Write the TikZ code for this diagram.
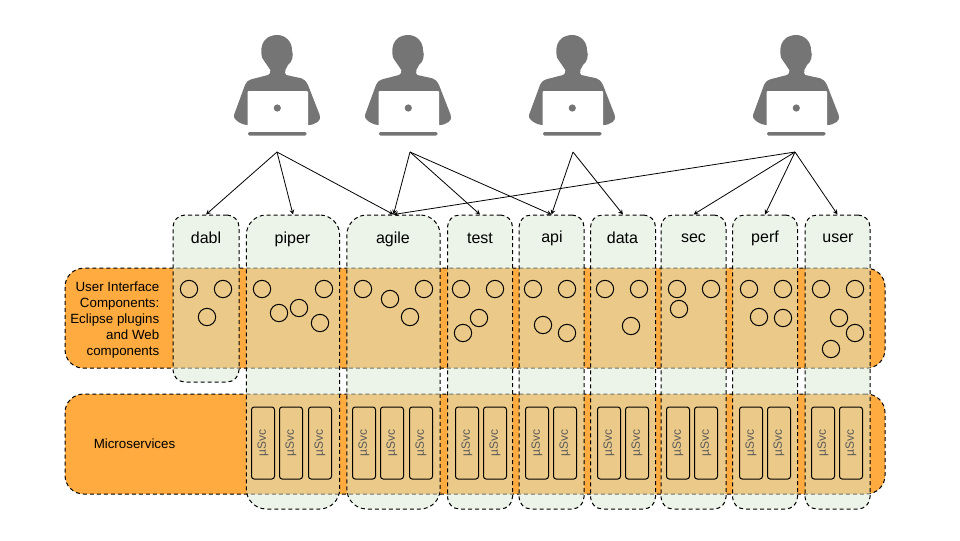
\documentclass[tikz,border=0pt]{standalone}
\usepackage{fontspec}
\setmainfont{Liberation Sans}
\usetikzlibrary{arrows}
\definecolor{BandOrange}{HTML}{FFAB40}
\definecolor{ColumnGreen}{HTML}{D9EAD3}
\definecolor{IconGray}{HTML}{757575}
\tikzstyle{Band} = [draw, dash pattern=on 3pt off 2.25pt, line width=.75pt, fill=BandOrange, rounded corners=14pt, minimum width=615pt, minimum height=75pt]
\tikzstyle{Column} = [draw, dash pattern=on 3pt off 2.25pt, line width=.75pt, fill=ColumnGreen, fill opacity=.5, rounded corners=9pt]
\tikzstyle{WideColumn} = [Column, rounded corners=15pt, minimum width=70pt, minimum height=220.5pt]
\tikzstyle{NarrowColumn} = [Column, minimum width=48.75pt, minimum height=220.5pt]
\tikzstyle{Title} = [font=\fontsize{12}{14}\selectfont]
\tikzstyle{Note} = [font=\fontsize{10}{12}\selectfont]
\tikzstyle{Comp} = [draw, circle, line width=.75pt, minimum size=13pt, inner sep=0pt]
\tikzstyle{Svc} = [draw=black, text=black!65, rectangle, rotate=90, rounded corners=2pt, line width=.75pt, minimum width=54pt, minimum height=17.25pt, inner sep=0pt, font=\fontsize{9}{10}\selectfont]
\tikzstyle{Link} = [-stealth, line width=.6pt]
\tikzset{developer/.pic={
    \fill[IconGray] (0,35) .. controls (9,35) and (15,42) .. (15,50)
      .. controls (17,56) and (15,62) .. (11,65) -- (8.3,70)
      .. controls (8,73) and (8,74) .. (9.3,75) -- (24.3,78.3)
      .. controls (27,79) and (29,81) .. (31,85) -- (42.7,115)
      .. controls (43.5,118) and (43,120) .. (41,121.7)
      .. controls (38,124) and (35,125) .. (31,125) -- (-30,125)
      .. controls (-35,124.5) and (-39,122) .. (-41,120)
      .. controls (-43,118) and (-43.5,117) .. (-43,115) -- (-32,85)
      .. controls (-30,81) and (-28,80) .. (-25.7,79.3) -- (-9,75)
      .. controls (-7,74) and (-6,72) .. (-6.7,70) -- (-12.3,61.7)
      .. controls (-15,58) and (-16,56) .. (-15.7,53)
      .. controls (-16,46) and (-14,41) .. (-10,38)
      .. controls (-7,36) and (-3,35) .. (0,35) -- cycle;
    \fill[white] (-29.5,126) -- (-29.5,92) .. controls (-29.5,91) .. (-28.5,91)
      -- (30,91) .. controls (31,91) .. (31,92) -- (31,126) -- cycle;
    \fill[IconGray] (0.3,108) circle (3.6);
    \fill[IconGray, rounded corners=1pt] (-29,132) rectangle (29.5,135.5);
  }}

\begin{document}
\begin{tikzpicture}[x=.75pt, y=-.75pt]
    \useasboundingbox (0,0) rectangle (960,540);
    % developers
    \pic at (277,0) {developer};
    \pic at (408,0) {developer};
    \pic at (572,0) {developer};
    \pic at (796,0) {developer};
    \coordinate (d_first)  at (277,152);
    \coordinate (d_second) at (410,152);
    \coordinate (d_third)  at (573,152);
    \coordinate (d_fourth) at (795,152);

    % layers
    \node[Band] (ui)   at (475,318.2) {};
    \node[Band] (msvc) at (475,444) {};
    \node[Note, align=right, anchor=east] (ui_text) at (164,320) {User Interface\\Components:\\Eclipse plugins\\and Web\\components};
    \node[Note] (msvc_text) at (134.5,443.5) {Microservices};

    % projects
    \node[Column, minimum width=49.5pt, minimum height=125.25pt] (dabl) at (206,298.5) {};
    \node[WideColumn]   (piper) at (293,362) {};
    \node[WideColumn]   (agile) at (393.5,362) {};
    \node[NarrowColumn] (test)  at (480,362) {};
    \node[NarrowColumn] (api)   at (551.5,362) {};
    \node[NarrowColumn] (data)  at (623,362) {};
    \node[NarrowColumn] (sec)   at (693.5,362) {};
    \node[NarrowColumn] (perf)  at (765,362) {};
    \node[NarrowColumn] (user)  at (837.5,362) {};
    \node[Title] (t_dabl)  at (206,238)   {dabl};
    \node[Title] (t_piper) at (292.5,239) {piper};
    \node[Title] (t_agile) at (393,239)   {agile};
    \node[Title] (t_test)  at (480,238)   {test};
    \node[Title] (t_api)   at (552,238)   {api};
    \node[Title] (t_data)  at (622.5,238) {data};
    \node[Title] (t_sec)   at (693.5,238) {sec};
    \node[Title] (t_perf)  at (765,238)   {perf};
    \node[Title] (t_user)  at (838,238)   {user};

    % components
    \node[Comp] (c_dabl_a) at (189,289) {};
    \node[Comp] (c_dabl_b) at (223,289) {};
    \node[Comp] (c_dabl_c) at (207,317) {};
    \node[Comp] (c_piper_a) at (262,289) {};
    \node[Comp] (c_piper_b) at (324,289) {};
    \node[Comp] (c_piper_c) at (279,313) {};
    \node[Comp] (c_piper_d) at (299,308) {};
    \node[Comp] (c_piper_e) at (320,323) {};
    \node[Comp] (c_agile_a) at (363,289) {};
    \node[Comp] (c_agile_b) at (424,289) {};
    \node[Comp] (c_agile_c) at (390,299) {};
    \node[Comp] (c_agile_d) at (410,317) {};
    \node[Comp] (c_test_a) at (461,289) {};
    \node[Comp] (c_test_b) at (495,289) {};
    \node[Comp] (c_test_c) at (479,318) {};
    \node[Comp] (c_test_d) at (463,333) {};
    \node[Comp] (c_api_a) at (533,289) {};
    \node[Comp] (c_api_b) at (567,289) {};
    \node[Comp] (c_api_c) at (543,325) {};
    \node[Comp] (c_api_d) at (567,333) {};
    \node[Comp] (c_data_a) at (605,289) {};
    \node[Comp] (c_data_b) at (639,289) {};
    \node[Comp] (c_data_c) at (631,326) {};
    \node[Comp] (c_sec_a) at (677,289) {};
    \node[Comp] (c_sec_b) at (711,289) {};
    \node[Comp] (c_sec_c) at (679,309) {};
    \node[Comp] (c_perf_a) at (749,289) {};
    \node[Comp] (c_perf_b) at (783,289) {};
    \node[Comp] (c_perf_c) at (759,317) {};
    \node[Comp] (c_perf_d) at (783,318) {};
    \node[Comp] (c_user_a) at (821,289) {};
    \node[Comp] (c_user_b) at (855,289) {};
    \node[Comp] (c_user_c) at (839,318) {};
    \node[Comp] (c_user_d) at (855,333) {};
    \node[Comp] (c_user_e) at (831,349) {};

    % microservices
    \node[Svc] (s_piper_a) at (263,443) {µSvc};
    \node[Svc] (s_piper_b) at (291,443) {µSvc};
    \node[Svc] (s_piper_c) at (320,443) {µSvc};
    \node[Svc] (s_agile_a) at (364,443) {µSvc};
    \node[Svc] (s_agile_b) at (392,443) {µSvc};
    \node[Svc] (s_agile_c) at (421,443) {µSvc};
    \node[Svc] (s_test_a) at (467,443) {µSvc};
    \node[Svc] (s_test_b) at (495,443) {µSvc};
    \node[Svc] (s_api_a) at (537,443) {µSvc};
    \node[Svc] (s_api_b) at (565,443) {µSvc};
    \node[Svc] (s_data_a) at (609,443) {µSvc};
    \node[Svc] (s_data_b) at (637,443) {µSvc};
    \node[Svc] (s_sec_a) at (678,443) {µSvc};
    \node[Svc] (s_sec_b) at (706,443) {µSvc};
    \node[Svc] (s_perf_a) at (751,443) {µSvc};
    \node[Svc] (s_perf_b) at (779,443) {µSvc};
    \node[Svc] (s_user_a) at (823,443) {µSvc};
    \node[Svc] (s_user_b) at (851,443) {µSvc};

    % who works on what
    \draw[Link] (d_first)  -- (dabl.north);
    \draw[Link] (d_first)  -- (piper.north);
    \draw[Link] (d_first)  -- (agile.north);
    \draw[Link] (d_second) -- (agile.north);
    \draw[Link] (d_second) -- (test.north);
    \draw[Link] (d_second) -- (api.north);
    \draw[Link] (d_third)  -- (api.north);
    \draw[Link] (d_third)  -- (data.north);
    \draw[Link] (d_fourth) -- (agile.north);
    \draw[Link] (d_fourth) -- (sec.north);
    \draw[Link] (d_fourth) -- (perf.north);
    \draw[Link] (d_fourth) -- (user.north);
  \end{tikzpicture}
\end{document}
